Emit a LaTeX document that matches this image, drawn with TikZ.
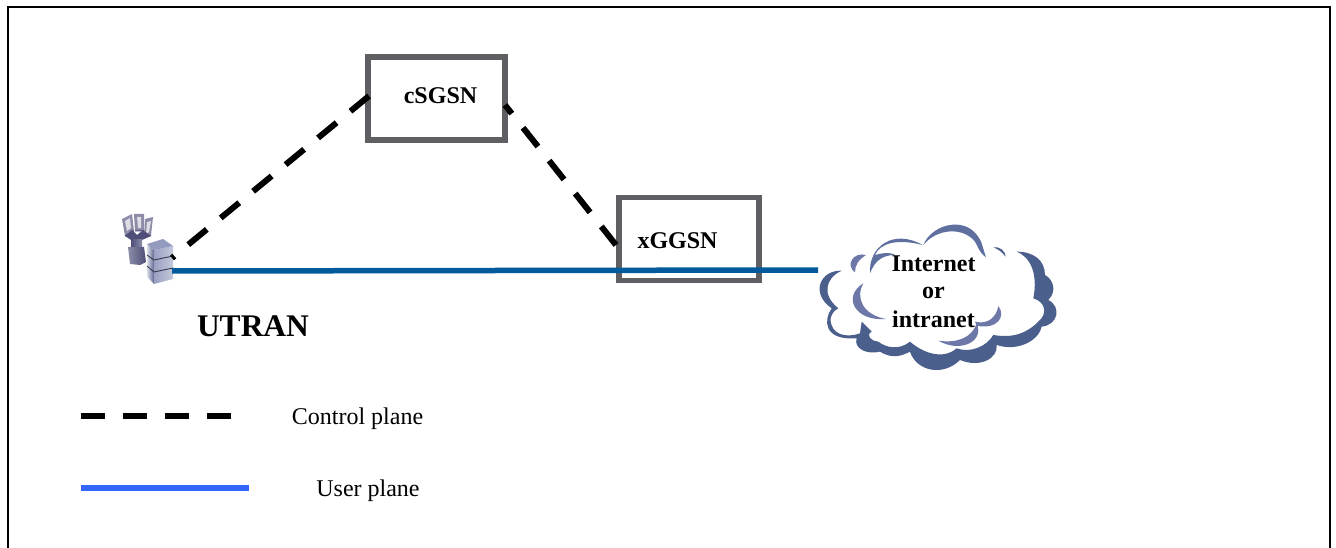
\documentclass[tikz,border=0pt]{standalone}
\usepackage{fontspec}
\setmainfont{Liberation Serif}
\definecolor{boxgrey}{HTML}{5F5F63}
\definecolor{upblue}{HTML}{005A9C}
\definecolor{legblue}{HTML}{3366FF}
\definecolor{clouddark}{HTML}{4A5F8C}
\definecolor{cloudlight}{HTML}{6E78A8}
\definecolor{cloudmid}{HTML}{5F6F9F}
\definecolor{towerdark}{HTML}{4E4E78}
\definecolor{towermid}{HTML}{8C8CA8}
\tikzset{
  sgbox/.style={draw=boxgrey,line width=5.6pt,minimum width=137pt,minimum height=83pt,inner sep=0pt},
  ctrl/.style={line width=6pt,black,dash pattern=on 24pt off 18pt},
  userline/.style={line width=5.5pt,upblue},
  legline/.style={line width=6pt,legblue},
  boldlab/.style={font=\fontsize{24}{28}\selectfont\bfseries,inner sep=0pt},
  plainlab/.style={font=\fontsize{24}{28}\selectfont,inner sep=0pt},
  crescent/.style={fill=cloudlight,draw=none},
  crescentm/.style={fill=cloudmid,draw=none},
  crescentd/.style={fill=clouddark,draw=none},
}
\begin{document}
\begin{tikzpicture}[x=1pt,y=-1pt]
\useasboundingbox (0,0) rectangle (1336,548);
\fill[white] (0,0) rectangle (1336,548);
\draw[line width=2.5pt,black] (8,548) -- (8,7) -- (1330,7) -- (1330,548);

% cloud
\begin{scope}[shift={(800,210)},x=0.3333pt,y=-0.3333pt]
 \fill[crescentd] (125,182) .. controls (60,180) and (30,250) .. (95,295)
   .. controls (70,330) and (70,392) .. (170,385)
   .. controls (160,415) and (200,435) .. (240,425)
   .. controls (280,450) and (310,435) .. (330,425)
   .. controls (350,485) and (430,500) .. (480,450)
   .. controls (540,475) and (595,445) .. (590,405)
   .. controls (650,425) and (715,395) .. (725,350)
   .. controls (775,345) and (785,290) .. (745,270)
   .. controls (775,240) and (755,205) .. (735,195)
   .. controls (735,150) and (700,125) .. (650,125)
   .. controls (690,140) and (715,190) .. (700,265)
   .. controls (735,275) and (745,310) .. (715,335)
   .. controls (680,370) and (640,385) .. (580,375)
   .. controls (560,410) and (510,430) .. (470,415)
   .. controls (430,450) and (370,430) .. (330,395)
   .. controls (300,420) and (260,415) .. (235,395)
   .. controls (215,395) and (195,375) .. (215,365)
   -- (185,335) -- (180,370)
   .. controls (140,385) and (90,375) .. (92,325)
   .. controls (95,310) and (105,300) .. (115,295)
   .. controls (65,255) and (75,205) .. (125,182) -- cycle;
 \fill[crescentm] (370,105) .. controls (395,40) and (510,10) .. (545,100) -- (558,142)
   .. controls (535,125) and (535,110) .. (525,95)
   .. controls (490,50) and (410,55) .. (370,105) -- cycle;
 \fill[crescentm] (210,190) .. controls (205,110) and (280,55) .. (368,105)
   .. controls (290,85) and (240,100) .. (225,135)
   .. controls (260,125) and (280,130) .. (285,135)
   .. controls (250,135) and (225,150) .. (210,190) -- cycle;
 \fill[crescent] (165,187) .. controls (135,165) and (160,125) .. (198,135)
   .. controls (175,150) and (165,165) .. (165,187) -- cycle;
 \fill[crescent] (258,327) .. controls (165,335) and (125,260) .. (190,220)
   .. controls (165,265) and (190,315) .. (258,327) -- cycle;
 \fill[crescent] (525,335) .. controls (565,345) and (590,320) .. (595,288)
   .. controls (620,320) and (590,360) .. (530,347) -- cycle;
 \fill[crescent] (415,392) .. controls (470,400) and (515,385) .. (530,340)
   .. controls (555,395) and (480,430) .. (415,392) -- cycle;
 \fill[crescentd] (580,112) .. controls (600,108) and (617,125) .. (617,140)
   .. controls (605,125) and (595,118) .. (580,112) -- cycle;
\end{scope}

% radio tower
\fill[towermid] (122,219) -- (132,214) -- (134,231) -- (125,236) -- cycle;
\fill[towermid] (134,214) -- (144,214) -- (144,231) -- (135,231) -- cycle;
\fill[towermid] (145,219) -- (153,217) -- (151,235) -- (144,238) -- cycle;
\fill[white!70!towermid] (125,221) -- (130,218) -- (131,228) -- (127,231) -- cycle;
\fill[white!70!towermid] (137,217) -- (141,217) -- (141,228) -- (138,228) -- cycle;
\fill[white!70!towermid] (147,222) -- (151,221) -- (149,232) -- (146,234) -- cycle;
\draw[towerdark,line width=1pt] (125,236) -- (134,231) (135,231) -- (144,231) (144,238) -- (151,235);
\fill[towerdark] (125,236) -- (131,240) -- (142,240) -- (151,236) -- (143,230) -- (137,235) -- (132,230) -- cycle;
\shade[left color=towerdark,right color=towermid] (131,240) rectangle (142,247);
\shade[left color=towermid,right color=towerdark] (128,247) -- (144,247) -- (146,262) -- (140,265) -- (130,264) -- cycle;

\coordinate (utranctrl) at (172,258);
\coordinate (utranuser) at (172,271);
\coordinate (cloudin) at (818,270);
\coordinate (csgsnl) at (369,96);
\coordinate (csgsnr) at (505,105);
\coordinate (xggsnl) at (616,245);
\node[sgbox] (csgsn) at (436.5,98.5) {};
\node[sgbox,minimum width=140pt] (xggsn) at (689,239) {};

% cabinet
\shade[left color=cloudlight!25,right color=cloudlight!85!black] (147,244) -- (154,250) -- (154,284) -- (147,277) -- cycle;
\shade[left color=cloudlight!70,right color=cloudlight!40] (154,250) -- (173,246) -- (173,279) -- (154,284) -- cycle;
\fill[cloudlight!75] (147,244) -- (163,239) -- (173,246) -- (154,250) -- cycle;
\draw[cloudlight!40!black,line width=0.8pt] (147,255) -- (154,260) -- (173,256) (147,266) -- (154,272) -- (173,268);

\draw[ctrl] (csgsnl) -- (utranctrl);
\draw[ctrl,dash phase=13pt] (csgsnr) -- (xggsnl);
\draw[userline] (utranuser) -- (cloudin);

\node[boldlab] (lc) at (440.5,95.5) {cSGSN};
\node[boldlab] (lx) at (677.5,240.5) {xGGSN};
\node[boldlab,font=\fontsize{31.5}{36}\selectfont\bfseries] (lu) at (253,326) {UTRAN};
\node[boldlab] (li) at (933.5,264) {Internet};
\node[boldlab] (lo) at (933.5,292.5) {or};
\node[boldlab] (ln) at (933.5,319) {intranet};

\coordinate (la) at (81,416);
\coordinate (lb) at (232,416);
\coordinate (lcc) at (81,488);
\coordinate (ld) at (249,488);
\draw[ctrl] (la) -- (lb);
\draw[legline] (lcc) -- (ld);
\node[plainlab] (t1) at (357.5,418.5) {Control plane};
\node[plainlab] (t2) at (368,490.5) {User plane};
\end{tikzpicture}
\end{document}
